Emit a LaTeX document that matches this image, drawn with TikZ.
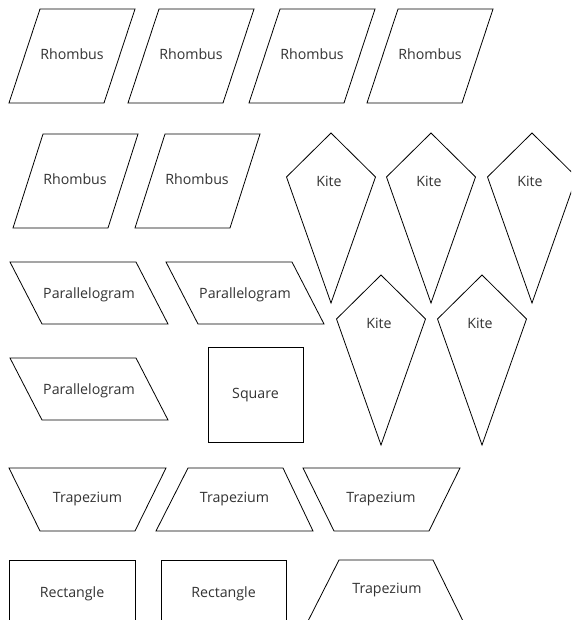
\documentclass[tikz,border=0pt]{standalone}
\usepackage{fontspec}
\setmainfont{Open Sans}
\definecolor{txt}{HTML}{333333}
\begin{document}
\begin{tikzpicture}[x=1pt,y=-1pt,
  shp/.style={draw=black,line width=0.8pt,line join=miter},
  lbl/.style={anchor=base,inner sep=0pt,text=txt,font=\fontsize{14.2}{16}\selectfont}]
\clip (0,0) rectangle (571,620);
\fill[white] (0,0) rectangle (571,620);
% Rhombus row 1
\foreach \x [count=\i] in {40,159,280,398}{
  \draw[shp] (\x,9) -- ++(95,0) -- ++(-31,94) -- ++(-95,0) -- cycle;
  \node[lbl] (rh\i) at (\x+32,60) {Rhombus};
}
% Rhombus row 2
\foreach \x [count=\i from 5] in {43,165}{
  \draw[shp] (\x,134) -- ++(95,0) -- ++(-30,94) -- ++(-95,0) -- cycle;
  \node[lbl] (rh\i) at (\x+32,185) {Rhombus};
}
% Kites
\foreach \cx/\ty/\b [count=\i] in {331/133/187,431/133/187,532/133/187,381/275/328,482/275/328}{
  \draw[shp] (\cx,\ty) -- (\cx+44.5,\ty+44) -- (\cx,\ty+170) -- (\cx-44.5,\ty+44) -- cycle;
  \node[lbl] (kite\i) at (\cx-2,\b) {Kite};
}
% Parallelograms
\foreach \x/\y [count=\i] in {10/262,166/262,10/358}{
  \draw[shp] (\x,\y) -- ++(126,0) -- ++(32,62) -- ++(-126,0) -- cycle;
  \node[lbl] (par\i) at (\x+79,\y+36) {Parallelogram};
}
% Square
\draw[shp] (208,347) rectangle (303,442);
\node[lbl] (sq) at (255.5,398.5) {Square};
% Trapeziums (inverted)
\foreach \x [count=\i] in {9,303}{
  \draw[shp] (\x,468) -- ++(157,0) -- ++(-31,63) -- ++(-95,0) -- cycle;
}
\node[lbl] (tr1) at (87.5,502) {Trapezium};
\node[lbl] (tr3) at (381,502) {Trapezium};
% Trapeziums (upright)
\draw[shp] (156,531) -- ++(157,0) -- ++(-30,-63) -- ++(-95,0) -- cycle;
\node[lbl] (tr2) at (234.5,502) {Trapezium};
\draw[shp] (307,623) -- ++(157,0) -- ++(-31,-63) -- ++(-94,0) -- cycle;
\node[lbl] (tr4) at (387,593) {Trapezium};
% Rectangles
\draw[shp] (9,560) rectangle (135,624);
\node[lbl] (re1) at (72,597) {Rectangle};
\draw[shp] (161,560) rectangle (286,624);
\node[lbl] (re2) at (223.5,597) {Rectangle};
\end{tikzpicture}
\end{document}
